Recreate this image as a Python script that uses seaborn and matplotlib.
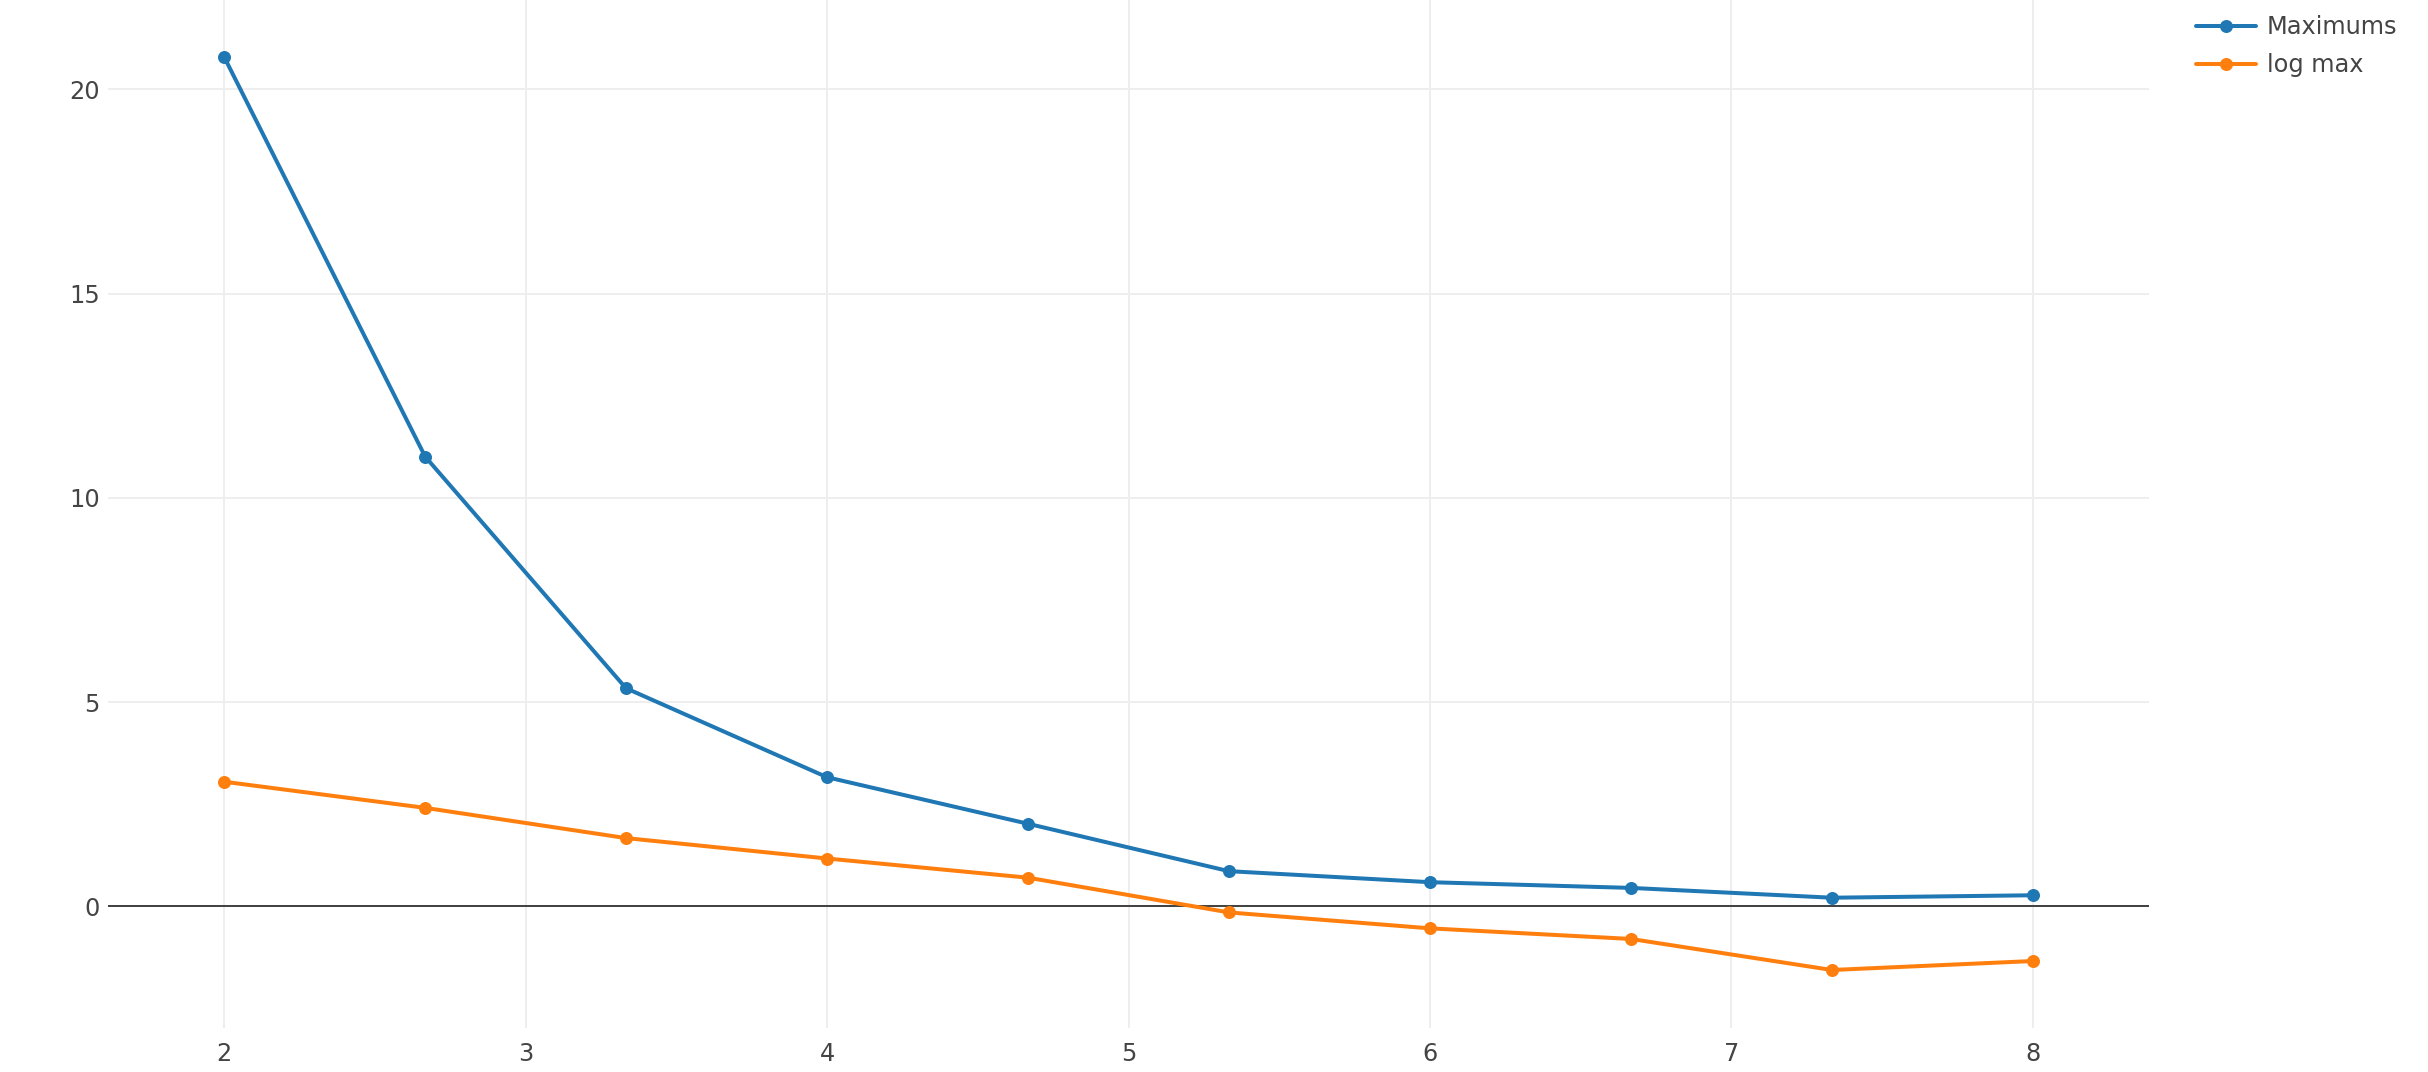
import numpy as np
import pandas as pd
import matplotlib
matplotlib.use("Agg")
import matplotlib.pyplot as plt
import seaborn as sns

# values
x_vals = [2, 2.667, 3.333, 4, 4.667, 5.333, 6, 6.667, 7.333, 8]
maximums = [20.80, 11.01, 5.34, 3.16, 2.02, 0.86, 0.59, 0.45, 0.21, 0.27]
log_max = [3.05, 2.41, 1.67, 1.17, 0.70, -0.15, -0.54, -0.80, -1.56, -1.34]
series_names = ["Maximums", "log max"]
x_ticks = [2, 3, 4, 5, 6, 7, 8]
y_ticks = [0, 5, 10, 15, 20]

df = pd.DataFrame({
    "x": x_vals * 2,
    "y": maximums + log_max,
    "series": [series_names[0]] * len(x_vals) + [series_names[1]] * len(x_vals),
})

sns.set_theme(style="white")
plt.rcParams["font.family"] = ["DejaVu Sans"]

W, H = 2428, 1072
fig = plt.figure(figsize=(W / 100, H / 100), dpi=100)
ax = fig.add_axes([108 / W, 1 - 1028 / H, (2149 - 108) / W, 1028 / H])

px = 0.72  # points per pixel at dpi 100

sns.lineplot(data=df, x="x", y="y", hue="series", palette=["#1f77b4", "#ff7f0e"],
             marker="o", markersize=13 * px, markeredgewidth=0, linewidth=4 * px,
             sort=False, ax=ax, zorder=3)

ax.set_xlim(1.615, 8.385)
ax.set_ylim(-2.98, 22.19)
ax.set_xticks(x_ticks)
ax.set_yticks(y_ticks)
ax.set_xlabel("")
ax.set_ylabel("")
ax.grid(True, color="#eeeeee", linewidth=2 * px, zorder=0)
ax.axhline(0, color="#444444", linewidth=2 * px, zorder=2)
for s in ax.spines.values():
    s.set_visible(False)
ax.tick_params(axis="both", length=0, labelsize=24 * px, labelcolor="#444444")
ax.tick_params(axis="y", pad=6)
ax.tick_params(axis="x", pad=10)

handles, labels = ax.get_legend_handles_labels()
ax.legend(handles, labels, loc="upper left", bbox_to_anchor=(2196 / W, 1 - 15 / H),
          bbox_transform=fig.transFigure, frameon=False, fontsize=24 * px,
          handlelength=2.5, handletextpad=0.45, labelspacing=0.58,
          borderpad=0, borderaxespad=0, labelcolor="#444444")

fig.savefig("out.png", dpi=100)
